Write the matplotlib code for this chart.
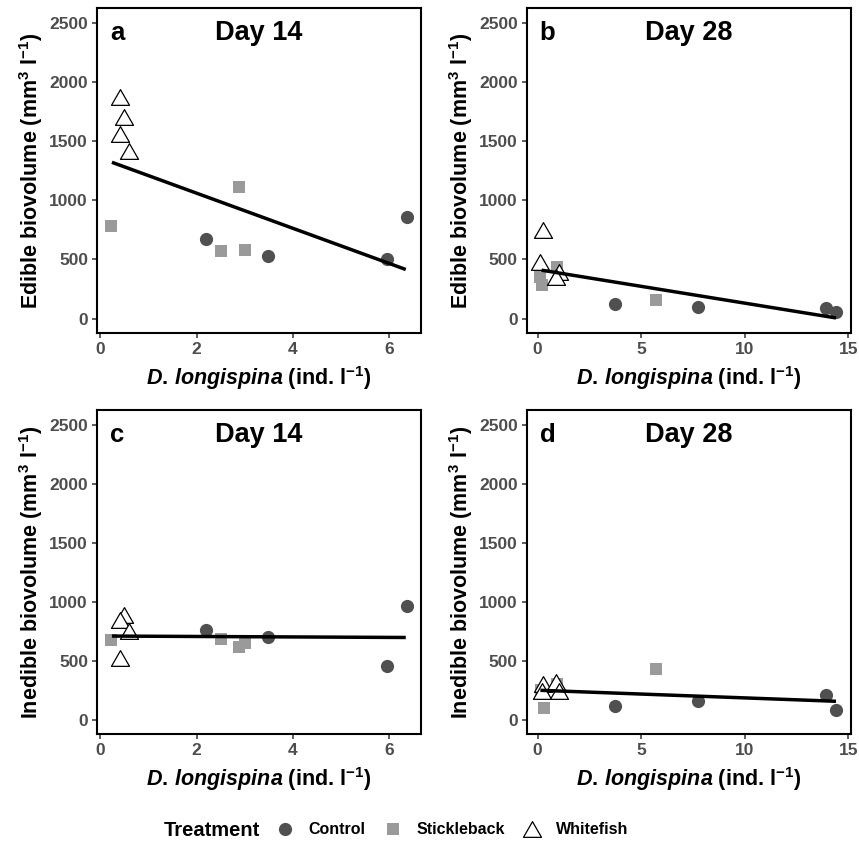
import matplotlib
matplotlib.use("Agg")
import matplotlib.pyplot as plt
from matplotlib.lines import Line2D
from matplotlib.path import Path

plt.rcParams['font.family'] = ['Liberation Sans', 'DejaVu Sans']
plt.rcParams['font.weight'] = 'bold'
plt.rcParams['mathtext.fontset'] = 'custom'
plt.rcParams['mathtext.rm'] = 'Liberation Sans:bold'
plt.rcParams['mathtext.bf'] = 'Liberation Sans:bold'
plt.rcParams['mathtext.it'] = 'Liberation Sans:bold:italic'

# ---------------- data ----------------
# Panel a: Day 14, edible
a_ctrl_x = [2.19, 3.47, 5.96, 6.37]
a_ctrl_y = [669, 528, 500, 861]
a_stick_x = [0.22, 2.50, 2.88, 3.00]
a_stick_y = [785, 573, 1110, 579]
a_white_x = [0.41, 0.50, 0.41, 0.60]
a_white_y = [1871, 1706, 1558, 1420]
a_fit_x = [0.24, 6.34]
a_fit_y = [1322, 415]

# Panel b: Day 28, edible
b_ctrl_x = [3.73, 7.76, 13.93, 14.41]
b_ctrl_y = [119, 98, 93, 56]
b_stick_x = [0.93, 0.13, 0.21, 5.71]
b_stick_y = [437, 352, 282, 155]
b_white_x = [0.26, 0.13, 1.01, 0.90]
b_white_y = [751, 479, 395, 352]
b_fit_x = [0.19, 14.41]
b_fit_y = [409, 5]

# Panel c: Day 14, inedible
c_ctrl_x = [2.19, 3.47, 5.96, 6.37]
c_ctrl_y = [758, 697, 452, 963]
c_stick_x = [0.22, 2.50, 2.88, 3.00]
c_stick_y = [674, 682, 617, 646]
c_white_x = [0.50, 0.41, 0.60, 0.41]
c_white_y = [884, 841, 752, 525]
c_fit_x = [0.24, 6.34]
c_fit_y = [708, 696]

# Panel d: Day 28, inedible
d_ctrl_x = [3.73, 7.76, 13.93, 14.41]
d_ctrl_y = [113, 155, 206, 79]
d_stick_x = [0.30, 5.71, 0.93, 0.14]
d_stick_y = [99, 432, 303, 248]
d_white_x = [0.26, 0.88, 0.19, 1.01]
d_white_y = [303, 322, 243, 245]
d_fit_x = [0.13, 14.41]
d_fit_y = [248, 155]

panel_letters = ['a', 'b', 'c', 'd']
panel_titles = ['Day 14', 'Day 28', 'Day 14', 'Day 28']
y_labels = ['Edible biovolume (mm$^{3}$ l$^{-1}$)', 'Edible biovolume (mm$^{3}$ l$^{-1}$)',
            'Inedible biovolume (mm$^{3}$ l$^{-1}$)', 'Inedible biovolume (mm$^{3}$ l$^{-1}$)']
x_label = r'$D.\/longispina$ (ind. l$^{-1}$)'
y_ticks = [0, 500, 1000, 1500, 2000, 2500]
x_ticks_14 = [0, 2, 4, 6]
x_ticks_28 = [0, 5, 10, 15]
treatments = ['Control', 'Stickleback', 'Whitefish']

# ---------------- style ----------------
CTRL_C = '#505050'
STICK_C = '#9a9a9a'
tri = Path([(0, 0.87), (-1, -0.87), (1, -0.87), (0, 0.87)],
           [Path.MOVETO, Path.LINETO, Path.LINETO, Path.CLOSEPOLY])

fig = plt.figure(figsize=(8.59, 8.43), dpi=100)
W, H = 859, 843

def ax_at(left, top, right, bottom):
    return fig.add_axes([left / W, 1 - bottom / H, (right - left) / W, (bottom - top) / H])

axes = [ax_at(97, 8.3, 420.7, 333.3), ax_at(526.7, 8.3, 850.7, 333.3),
        ax_at(97, 410, 420.7, 734.3), ax_at(526.7, 410, 850.7, 734.3)]

panels = [
    (a_ctrl_x, a_ctrl_y, a_stick_x, a_stick_y, a_white_x, a_white_y, a_fit_x, a_fit_y),
    (b_ctrl_x, b_ctrl_y, b_stick_x, b_stick_y, b_white_x, b_white_y, b_fit_x, b_fit_y),
    (c_ctrl_x, c_ctrl_y, c_stick_x, c_stick_y, c_white_x, c_white_y, c_fit_x, c_fit_y),
    (d_ctrl_x, d_ctrl_y, d_stick_x, d_stick_y, d_white_x, d_white_y, d_fit_x, d_fit_y),
]

for i, (ax, p) in enumerate(zip(axes, panels)):
    cx, cy, sx, sy, wx, wy, fx, fy = p
    ax.plot(cx, cy, 'o', ms=9.5, mfc=CTRL_C, mec=CTRL_C, mew=0, ls='none', zorder=3)
    ax.plot(sx, sy, 's', ms=9.0, mfc=STICK_C, mec=STICK_C, mew=0, ls='none', zorder=3)
    ax.plot(wx, wy, marker=tri, ms=13, mfc='white', mec='black', mew=0.9, ls='none', zorder=4)
    ax.plot(fx, fy, '-', color='black', lw=2.5, zorder=5, solid_capstyle='butt')

    if i % 2 == 0:
        ax.set_xlim(-0.07, 6.65)
        ax.set_xticks(x_ticks_14)
    else:
        ax.set_xlim(-0.53, 15.12)
        ax.set_xticks(x_ticks_28)
    ax.set_ylim(-125, 2625)
    ax.set_yticks(y_ticks)

    for s in ax.spines.values():
        s.set_linewidth(1.5)
        s.set_color('black')
    ax.tick_params(axis='both', length=3.5, width=1.1, color='#333333',
                   labelsize=12.5, labelcolor='#4D4D4D', pad=3)
    for lab in ax.get_xticklabels() + ax.get_yticklabels():
        lab.set_fontweight('bold')

    ax.set_ylabel(y_labels[i], fontsize=15.5, fontweight='bold', color='black', labelpad=3)
    ax.set_xlabel(x_label, fontsize=15.5, fontweight='bold', color='black', labelpad=5)

    ax.text(0.04, 0.924, panel_letters[i], transform=ax.transAxes, fontsize=18.5,
            fontweight='bold', ha='left', va='center')
    ax.text(0.5, 0.924, panel_titles[i], transform=ax.transAxes, fontsize=19.5,
            fontweight='bold', ha='center', va='center')

# ---------------- legend ----------------
fig.text(164 / W, 1 - 830 / H, 'Treatment', fontsize=14.5, fontweight='bold',
         ha='left', va='center')
handles = [
    Line2D([], [], marker='o', ms=9.5, mfc=CTRL_C, mec=CTRL_C, mew=0, ls='none'),
    Line2D([], [], marker='s', ms=9.0, mfc=STICK_C, mec=STICK_C, mew=0, ls='none'),
    Line2D([], [], marker=tri, ms=13, mfc='white', mec='black', mew=0.9, ls='none'),
]
leg = fig.legend(handles, treatments, loc='center left', bbox_to_anchor=(275 / W, 1 - 830 / H),
                 ncol=3, frameon=False, fontsize=11.5, handlelength=1.2,
                 handletextpad=0.9, columnspacing=1.1, borderaxespad=0, borderpad=0)
for t in leg.get_texts():
    t.set_fontweight('bold')

fig.savefig('out.png', dpi=100)
